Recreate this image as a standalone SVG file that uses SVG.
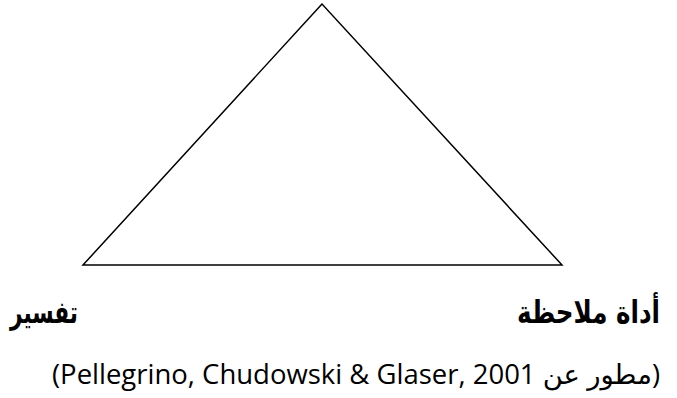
<svg xmlns="http://www.w3.org/2000/svg" width="677" height="398" viewBox="0 0 677 398">
<style>
.lbl{font-family:"DejaVu Sans","Noto Sans",sans-serif;font-weight:bold;font-size:31px;fill:#000}
.cite{font-family:"Open Sans","DejaVu Sans",sans-serif;font-size:27px;fill:#000}
</style>
<rect width="677" height="398" fill="#fff"/>
<g id="triangle">
<polygon points="322,4 83,265 562,265" fill="none" stroke="#000" stroke-width="1.5"/>
</g>
<g id="label-observation">
<text class="lbl" x="588.5" y="323" text-anchor="middle" direction="rtl" textLength="143" lengthAdjust="spacingAndGlyphs">أداة ملاحظة</text>
</g>
<g id="label-interpretation">
<text class="lbl" x="44" y="323" text-anchor="middle" direction="rtl" textLength="68" lengthAdjust="spacingAndGlyphs">تفسير</text>
</g>
<g id="citation">
<text class="cite" x="660" y="384" direction="rtl" text-anchor="start" textLength="608" lengthAdjust="spacingAndGlyphs">(مطور عن Pellegrino, Chudowski &amp; Glaser, 2001)</text>
</g>
</svg>
